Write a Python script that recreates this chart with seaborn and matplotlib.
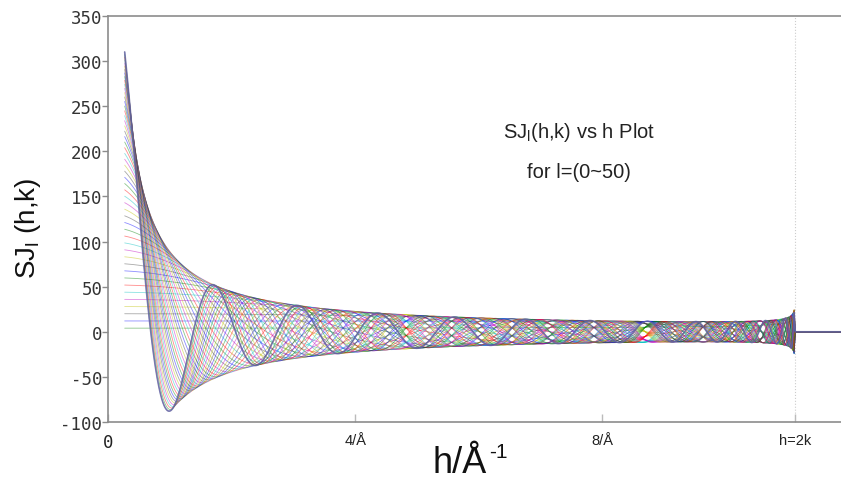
import numpy as np
import pandas as pd
import seaborn as sns
import matplotlib.pyplot as plt

# family of curves l = 0..50
l_values = list(range(0, 51))
two_k = 11.12          # position of the h = 2k cut-off
amp = 4.0              # SJ_l(h->0) = amp * (2l + 1)
h_first = 0.27         # first sampled h
h_last = 11.86         # right edge of the axis
y_ticks = [-100, -50, 0, 50, 100, 150, 200, 250, 300, 350]
x_ticks = [0, 4, 8, two_k]
x_tick_labels = ["0", "4/Å", "8/Å", "h=2k"]
line_colors = ["#0000ff", "#008000", "#ff0000", "#00bfbf", "#bf00bf", "#bfbf00", "#404040"]


def sj(l, h):
    phi = np.arcsin(h / two_k)
    return amp * np.sin((l + 0.5) * phi) / np.sin(phi / 2) / np.sqrt(np.cos(phi))


rows = []
h_in = np.arange(h_first, two_k - 0.015, 0.004)
h_out = np.array([two_k, h_last])
for l in l_values:
    hh = np.concatenate([h_in, h_out])
    vals = np.concatenate([sj(l, h_in), np.zeros(len(h_out))])
    rows.append(pd.DataFrame({"h": hh, "SJ": vals, "l": l}))
df = pd.concat(rows, ignore_index=True)

palette = [line_colors[(50 - l) % len(line_colors)] for l in l_values]

sns.set_style("white")
plt.rcParams["font.family"] = ["Liberation Sans", "DejaVu Sans"]

fig = plt.figure(figsize=(8.41, 4.81), dpi=100)
ax = fig.add_axes([108 / 841, 58 / 481, 733 / 841, 406 / 481])

sns.lineplot(data=df, x="h", y="SJ", hue="l", palette=palette, estimator=None,
             legend=False, linewidth=0.6, alpha=0.45, ax=ax)
# top curve stands out a little in the reference
top = df[df["l"] == l_values[-1]]
ax.plot(top["h"], top["SJ"], color="#6a6a9a", linewidth=1.2, alpha=0.8)
ax.axvline(two_k, color="#cccccc", linestyle=":", linewidth=0.8, zorder=0)

ax.set_xlim(0, h_last)
ax.set_ylim(-100, 350)
ax.set_xlabel("")
ax.set_ylabel("")

for side in ["left", "bottom", "top"]:
    ax.spines[side].set_color("#8c8c8c")
    ax.spines[side].set_linewidth(1.2)
ax.spines["right"].set_visible(False)

ax.set_yticks(y_ticks)
ax.set_yticklabels([str(v) for v in y_ticks], fontfamily="DejaVu Sans Mono",
                   fontsize=12.5, color="#333333")
ax.tick_params(axis="y", direction="out", length=4, width=1, color="#8c8c8c", pad=0, left=True)

ax.set_xticks(x_ticks)
ax.set_xticklabels(x_tick_labels, fontsize=10.5, color="#222222")
ax.get_xticklabels()[0].set_fontfamily("DejaVu Sans Mono")
ax.get_xticklabels()[0].set_fontsize(12.5)
ax.tick_params(axis="x", direction="in", length=6, width=1, color="#bbbbbb", pad=8, bottom=True)

fig.text(579 / 841, 1 - 133 / 481, "SJ$_\\mathregular{l}$(h,k) vs h Plot", fontsize=14.5,
         ha="center", va="center", color="#222222")
fig.text(579 / 841, 1 - 173 / 481, "for l=(0~50)", fontsize=14.5,
         ha="center", va="center", color="#222222")

fig.text(28 / 841, 1 - 228 / 481, "SJ$_\\mathregular{l}$ (h,k)", rotation=90,
         fontsize=20, ha="center", va="center", color="#111111")
fig.text(433 / 841, 1 - 473 / 481, "h/Å", fontsize=26,
         ha="left", va="baseline", color="#111111")
fig.text(489 / 841, 1 - 458 / 481, "-1", fontsize=15,
         ha="left", va="baseline", color="#111111")

fig.savefig("out.png", dpi=100)
